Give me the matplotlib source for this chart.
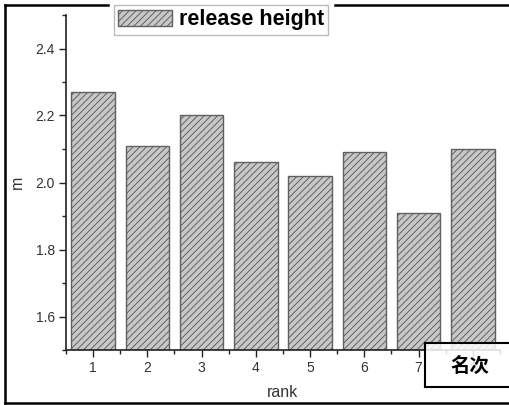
import matplotlib
matplotlib.use("Agg")
import matplotlib.pyplot as plt
from matplotlib.lines import Line2D
from matplotlib.ticker import MultipleLocator

ranks = [1, 2, 3, 4, 5, 6, 7, 8]
heights = [2.27, 2.11, 2.20, 2.06, 2.02, 2.09, 1.91, 2.10]
yticks = [1.6, 1.8, 2.0, 2.2, 2.4]

plt.rcParams['font.family'] = ['Liberation Sans', 'DejaVu Sans']
plt.rcParams['hatch.color'] = '#959595'
plt.rcParams['hatch.linewidth'] = 0.7

W, H = 510, 405
fig = plt.figure(figsize=(W / 100, H / 100), dpi=100)
ax = fig.add_axes([66 / W, 1 - 350 / H, 434 / W, 335 / H])

ax.bar(ranks, [h - 1.5 for h in heights], bottom=1.5, width=0.8,
       color='#c8c8c8', edgecolor='#606060', linewidth=1.0, hatch='/////',
       label='release height')

ax.set_xlim(0.5, 8.5)
ax.set_ylim(1.5, 2.5)
ax.set_xticks(ranks)
ax.set_yticks(yticks)
ax.set_yticklabels(['%.1f' % v for v in yticks])
ax.xaxis.set_minor_locator(MultipleLocator(0.5))
ax.yaxis.set_minor_locator(MultipleLocator(0.1))
ax.tick_params(which='major', direction='out', length=5, width=1, colors='#222',
               labelsize=10, labelcolor='#333', pad=3)
ax.tick_params(which='minor', direction='out', length=3, width=1, colors='#222')
ax.spines['top'].set_visible(False)
ax.spines['right'].set_visible(False)
for s in ['left', 'bottom']:
    ax.spines[s].set_linewidth(1.2)
    ax.spines[s].set_color('#222')

ax.set_xlabel('rank', fontsize=11.5, color='#333')
ax.set_ylabel('m', fontsize=11.5, color='#333')
ax.xaxis.set_label_coords(0.5, -0.105)
ax.yaxis.set_label_coords(-0.095, 0.5)

leg = fig.legend(loc='upper left', bbox_to_anchor=(114 / W, 1 - 5 / H),
                 prop={'weight': 'bold', 'size': 15.5}, fancybox=False,
                 framealpha=1, edgecolor='#bbbbbb', handlelength=2.5,
                 handleheight=0.8, borderpad=0.2, handletextpad=0.3,
                 borderaxespad=0)
leg.get_frame().set_linewidth(1.0)

# outer frame (no right side, top broken by the legend)
lw = 1.8
fig.add_artist(Line2D([5 / W, 5 / W], [1 - 5 / H, 1 - 403 / H], color='black', lw=lw))
fig.add_artist(Line2D([5 / W, 1], [1 - 403 / H, 1 - 403 / H], color='black', lw=lw))
fig.add_artist(Line2D([5 / W, 108 / W], [1 - 5 / H, 1 - 5 / H], color='black', lw=lw))
fig.add_artist(Line2D([335 / W, 1], [1 - 5 / H, 1 - 5 / H], color='black', lw=lw))

# Chinese label box
fig.patches.append(plt.Rectangle((425 / W, 1 - 387 / H), 90 / W, 44 / H,
                                 transform=fig.transFigure, facecolor='white',
                                 alpha=0.85, edgecolor='none', zorder=5))
fig.add_artist(Line2D([425 / W, 1], [1 - 343 / H, 1 - 343 / H], color='black', lw=1.5, zorder=6))
fig.add_artist(Line2D([425 / W, 1], [1 - 387 / H, 1 - 387 / H], color='black', lw=1.5, zorder=6))
fig.add_artist(Line2D([425 / W, 425 / W], [1 - 343 / H, 1 - 387 / H], color='black', lw=1.5, zorder=6))
fig.text(470 / W, 1 - 366 / H, '名次', fontsize=14, fontweight='bold',
         family=['Noto Sans CJK SC', 'DejaVu Sans'], ha='center', va='center', zorder=7)

fig.savefig('out.png', dpi=100)
